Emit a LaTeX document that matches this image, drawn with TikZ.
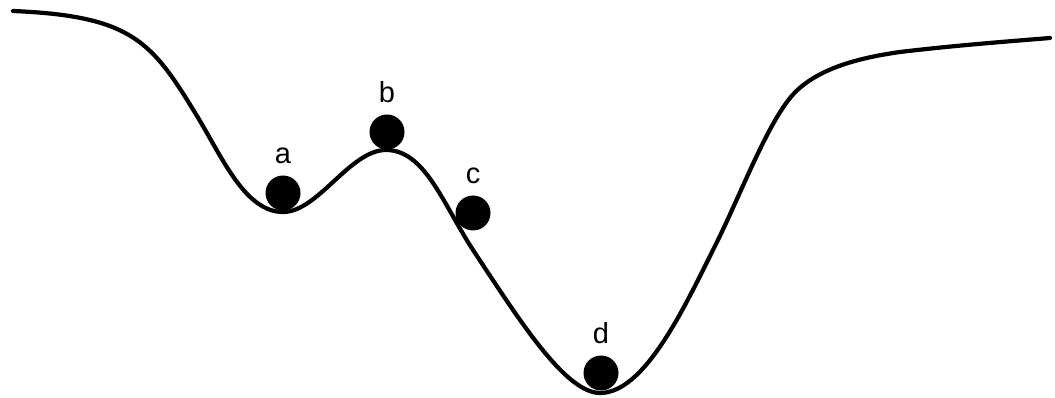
\documentclass[tikz,border=0pt]{standalone}
\usepackage{fontspec}
\setmainfont{Liberation Sans}
\usetikzlibrary{positioning}
\tikzset{
  ball/.style={circle,fill=black,inner sep=0pt,minimum size=35pt},
  lbl/.style={font=\fontsize{29}{29}\selectfont,inner sep=0pt},
  track/.style={line width=4.2pt,line cap=round}
}

\begin{document}
\begin{tikzpicture}[x=1pt,y=-1pt]
\useasboundingbox (0,0) rectangle (1055,398);
% the landscape
\draw [track] (13,11) .. controls (133,16) and (152,42) .. (197,116)
  .. controls (222,157) and (245,212) .. (283,212)
  .. controls (318,212) and (350,150) .. (386,150)
  .. controls (425,150) and (443,204) .. (473,250)
  .. controls (518,318) and (565,393) .. (600,393)
  .. controls (645,393) and (685,306) .. (715,246)
  .. controls (740,196) and (765,129) .. (790,98)
  .. controls (815,67) and (865,57) .. (900,52)
  .. controls (950,46) and (1000,42) .. (1050,38);
% the balls
\node [ball] (a) at (283,193) {};
\node [ball] (b) at (387,132) {};
\node [ball] (c) at (473,213) {};
\node [ball] (d) at (601,373) {};
\node [lbl,above=11pt of a] (la) {a};
\node [lbl,above=11pt of b] (lb) {b};
\node [lbl,above=11pt of c] (lc) {c};
\node [lbl,above=11pt of d] (ld) {d};
\end{tikzpicture}
\end{document}
